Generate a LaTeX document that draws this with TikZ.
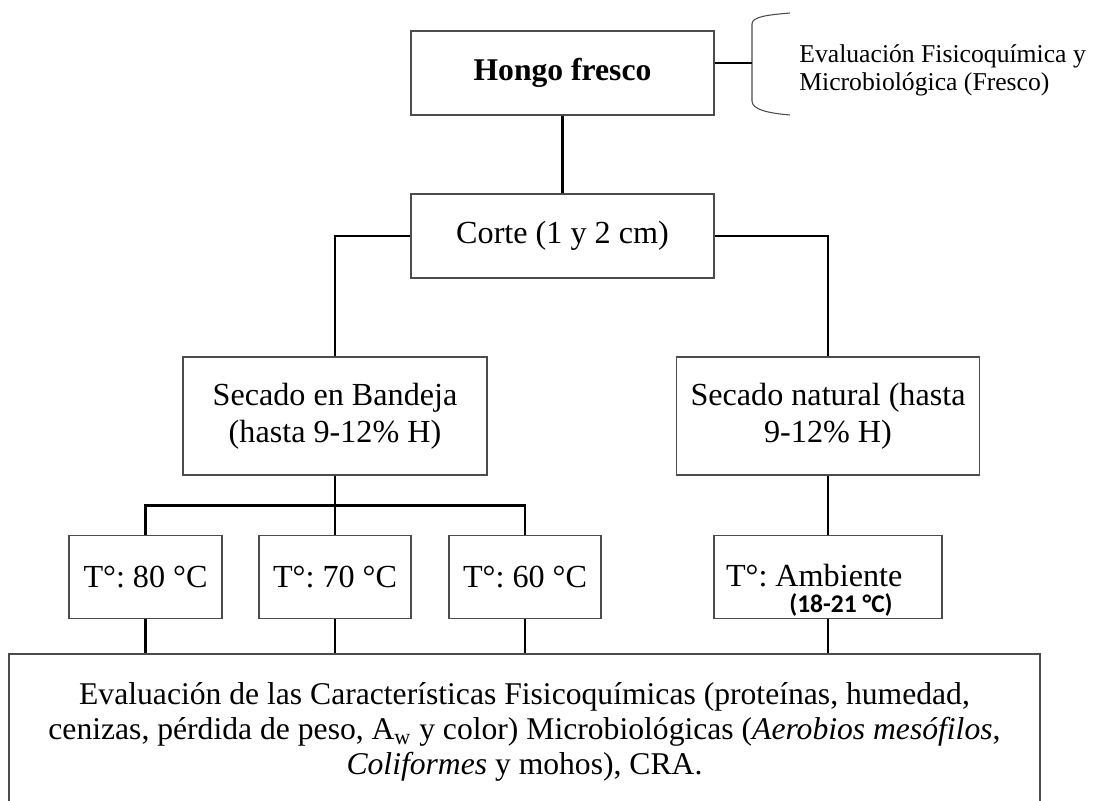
\documentclass[tikz,border=0pt]{standalone}
\usepackage{fontspec}
\setmainfont{Liberation Serif}
\newfontfamily\calibri{Carlito}
\usetikzlibrary{positioning,calc}
\frenchspacing

\begin{document}
\begin{tikzpicture}[x=0.2mm,y=-0.2mm]
\tikzset{caja/.style={draw=black!70, line width=0.6pt, inner sep=0pt, align=center, font=\fontsize{18.3}{21}\selectfont},
    enlace/.style={line width=1.4pt}}
\useasboundingbox (0,0) rectangle (1101,801);
\clip (0,0) rectangle (1101,801);

\node[caja, minimum width=60.6mm, minimum height=16.8mm, font=\bfseries\fontsize{18}{21}\selectfont] (hongo) at (562.5,73) {Hongo fresco};
\node[caja, minimum width=60.6mm, minimum height=16.8mm] (corte) at (562.5,236) {Corte (1 y 2 cm)};
\node[caja, minimum width=60.8mm, minimum height=23.6mm] (bandeja) at (335,416) {Secado en Bandeja\\(hasta 9-12\% H)};
\node[caja, minimum width=60.6mm, minimum height=23.6mm] (natural) at (828,416) {Secado natural (hasta\\9-12\% H)};
\node[caja, minimum width=30.6mm, minimum height=16.6mm] (t80) at (145.5,577) {T°: 80 °C};
\node[caja, minimum width=30.4mm, minimum height=16.6mm] (t70) at (335,577) {T°: 70 °C};
\node[caja, minimum width=30.4mm, minimum height=16.6mm] (t60) at (525,577) {T°: 60 °C};
\node[caja, minimum width=45.6mm, minimum height=16.6mm] (tamb) at (828,577) {\raisebox{1.5pt}{\makebox[40.8mm][l]{T°: Ambiente}}};
\node[inner sep=0pt, font=\calibri\bfseries\fontsize{14.5}{16}\selectfont] (rango) at (841,605) {(18-21 °C)};
\node[caja, minimum width=206.2mm, minimum height=31.2mm, font=\fontsize{18}{19.8}\selectfont] (eval) at (524.5,732)
  {Evaluación de las Características Fisicoquímicas (proteínas, humedad,\\
   cenizas, pérdida de peso, A\textsubscript{w} y color) Microbiológicas (\textit{Aerobios mesófilos},\\
   \textit{Coliformes} y mohos), CRA.};

% llave y texto lateral
\coordinate (llave) at (752,63);
\draw[draw=black!70, line width=0.6pt] (790,13) .. controls (766,15) and (752,17) .. (752,24) -- (752,101) .. controls (752,109) and (766,113) .. (790,115);
\node[anchor=west, align=left, inner sep=0pt, font=\fontsize{14.6}{15.8}\selectfont] (fisico) at (799,70)
  {Evaluación Fisicoquímica y\\Microbiológica (Fresco)};

\draw[enlace] (llave -| hongo.east) -- (llave);
\draw[enlace] (hongo.south) -- (corte.north);
\draw[enlace] (corte.west) -| (bandeja.north);
\draw[enlace] (corte.east) -| (natural.north);
\coordinate (barra) at ($(bandeja.south)+(0,30)$);
\draw[enlace] (bandeja.south) -- (barra);
\draw[enlace] (t80.north) |- (barra) -| (t60.north);
\draw[enlace] (barra) -- (t70.north);
\draw[enlace] (natural.south) -- (tamb.north);
\foreach \t in {t80,t70,t60,tamb}
  \draw[enlace] (\t.south) -- (\t.south |- eval.north);
\end{tikzpicture}
\end{document}
